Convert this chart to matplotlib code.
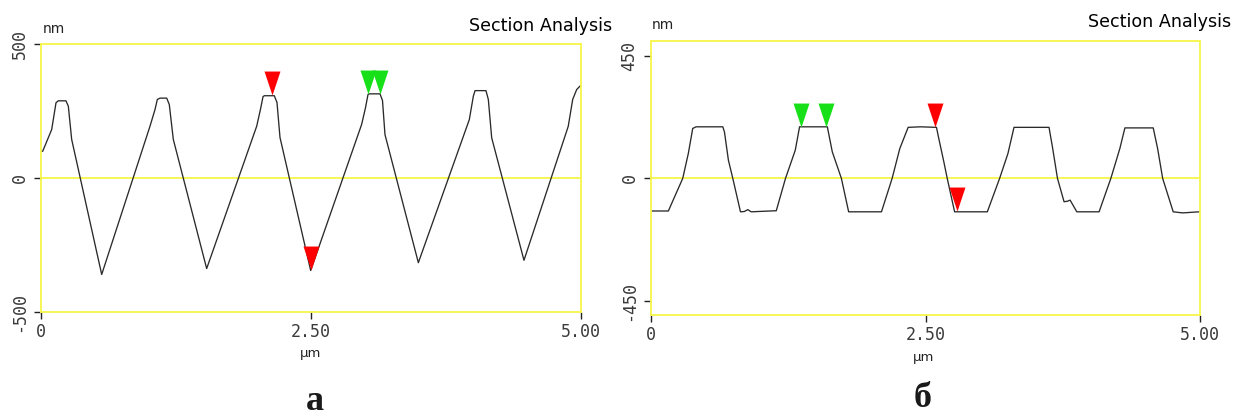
import matplotlib
matplotlib.use("Agg")
import matplotlib.pyplot as plt
from matplotlib.path import Path

W, H = 1234, 420

# profile (a): position in um, height in nm
xa = [0.0, 0.016, 0.099, 0.139, 0.160, 0.231, 0.253, 0.284, 0.562,
      1.009, 1.056, 1.077, 1.102, 1.164, 1.188, 1.225, 1.534,
      1.997, 2.032, 2.056, 2.069, 2.160, 2.185, 2.213, 2.497,
      2.969, 3.005, 3.028, 3.042, 3.139, 3.162, 3.185, 3.494,
      3.966, 4.003, 4.019, 4.120, 4.142, 4.173, 4.472,
      4.882, 4.923, 4.960, 4.991]
ya = [99, 100, 181, 281, 288, 288, 268, 144, -360,
      193, 256, 293, 298, 298, 274, 144, -338,
      193, 256, 304, 307, 307, 282, 151, -345,
      200, 263, 312, 314, 314, 289, 162, -316,
      218, 305, 326, 326, 293, 150, -307,
      193, 293, 330, 343]

# profile (b)
xb = [0.0, 0.158, 0.289, 0.340, 0.380, 0.411, 0.654, 0.669, 0.705, 0.745,
      0.815, 0.849, 0.882, 0.912, 1.141, 1.225, 1.314, 1.353, 1.606, 1.651,
      1.734, 1.800, 2.099, 2.196, 2.266, 2.342, 2.454, 2.600, 2.621, 2.667,
      2.698, 2.765, 3.063, 3.175, 3.251, 3.306, 3.625, 3.656, 3.702, 3.762,
      3.793, 3.817, 3.878, 4.081, 4.188, 4.270, 4.316, 4.574, 4.614, 4.660,
      4.756, 4.842, 4.994]
yb = [-120, -120, 0, 92, 184, 190, 190, 171, 67, 0,
      -123, -122, -115, -123, -119, 0, 104, 190, 190, 98,
      0, -123, -123, 0, 110, 188, 190, 188, 147, 61,
      0, -123, -123, 0, 92, 188, 188, 116, 0, -86,
      -84, -80, -123, -123, 0, 110, 186, 186, 110, 0,
      -123, -127, -123]

# cursor markers (x, y)
red_a = ([2.142, 2.497], [308, -345])
green_a = ([3.031, 3.139], [314, 314])
red_b = ([2.591, 2.789], [188, -120])
green_b = ([1.366, 1.597], [190, 190])

yticks_a = [-500, 0, 500]
yticks_b = [-450, 0, 450]
xticks = [0, 2.5, 5.0]
xticklabels = ["0", "2.50", "5.00"]

YELLOW = "#f6f64a"
LINE = "#2a2a2a"
RED = "#ff0000"
GREEN = "#18e018"

# downward triangle with its tip at the data point
cursor = Path([(0, 0), (-0.333, 1), (0.333, 1), (0, 0)],
              [Path.MOVETO, Path.LINETO, Path.LINETO, Path.CLOSEPOLY])


def px(x, y):
    return x / W, 1 - y / H


def make_axes(fig, left, top, right, bottom):
    ax = fig.add_axes([left / W, 1 - bottom / H, (right - left) / W, (bottom - top) / H])
    for s in ax.spines.values():
        s.set_color(YELLOW)
        s.set_linewidth(1.3)
    ax.axhline(0, color=YELLOW, lw=1.3, zorder=1)
    ax.tick_params(direction="out", length=5, width=1, color="#222222",
                   labelsize=12, labelcolor="#3a3a3a")
    return ax


def style_ticks(ax, yticks):
    ax.set_xticks(xticks)
    ax.set_xticklabels(xticklabels, family="DejaVu Sans Mono")
    ax.set_yticks(yticks)
    ax.set_yticklabels([str(v) for v in yticks], family="DejaVu Sans Mono",
                       rotation=90, va="center")
    ax.tick_params(axis="x", pad=3)
    ax.tick_params(axis="y", pad=4)


fig = plt.figure(figsize=(W / 100, H / 100), dpi=100)

ax1 = make_axes(fig, 41, 44, 581, 312)
ax1.plot(xa, ya, color=LINE, lw=0.95, zorder=2)
ax1.plot(*red_a, ls="none", marker=cursor, ms=34.5, color=RED, mew=0, zorder=3)
ax1.plot(*green_a, ls="none", marker=cursor, ms=34.5, color=GREEN, mew=0, zorder=3)
ax1.set_xlim(0, 5)
ax1.set_ylim(-500, 500)
style_ticks(ax1, yticks_a)

ax2 = make_axes(fig, 651, 41, 1200, 315)
ax2.plot(xb, yb, color=LINE, lw=0.95, zorder=2)
ax2.plot(*red_b, ls="none", marker=cursor, ms=34.5, color=RED, mew=0, zorder=3)
ax2.plot(*green_b, ls="none", marker=cursor, ms=34.5, color=GREEN, mew=0, zorder=3)
ax2.set_xlim(0, 5)
ax2.set_ylim(-503, 506)
style_ticks(ax2, yticks_b)

# unit labels and headers
fig.text(*px(43, 33), "nm", fontsize=10, color="#222222", va="baseline")
fig.text(*px(652, 29), "nm", fontsize=10, color="#222222", va="baseline")
fig.text(*px(311, 357), "µm", fontsize=9.5, color="#222222", ha="center", va="baseline")
fig.text(*px(924, 361), "µm", fontsize=9.5, color="#222222", ha="center", va="baseline")
fig.text(*px(612, 31), "Section Analysis", fontsize=12.6, color="black",
         ha="right", va="baseline")
fig.text(*px(1231, 27), "Section Analysis", fontsize=12.6, color="black",
         ha="right", va="baseline")

fig.text(*px(315, 410), "а", family="Liberation Serif", fontweight="bold",
         fontsize=26, color="#1a1a1a", ha="center", va="baseline")
fig.text(*px(923, 407), "б", family="Liberation Serif", fontweight="bold",
         fontsize=26, color="#1a1a1a", ha="center", va="baseline")

fig.savefig("out.png", dpi=100)
